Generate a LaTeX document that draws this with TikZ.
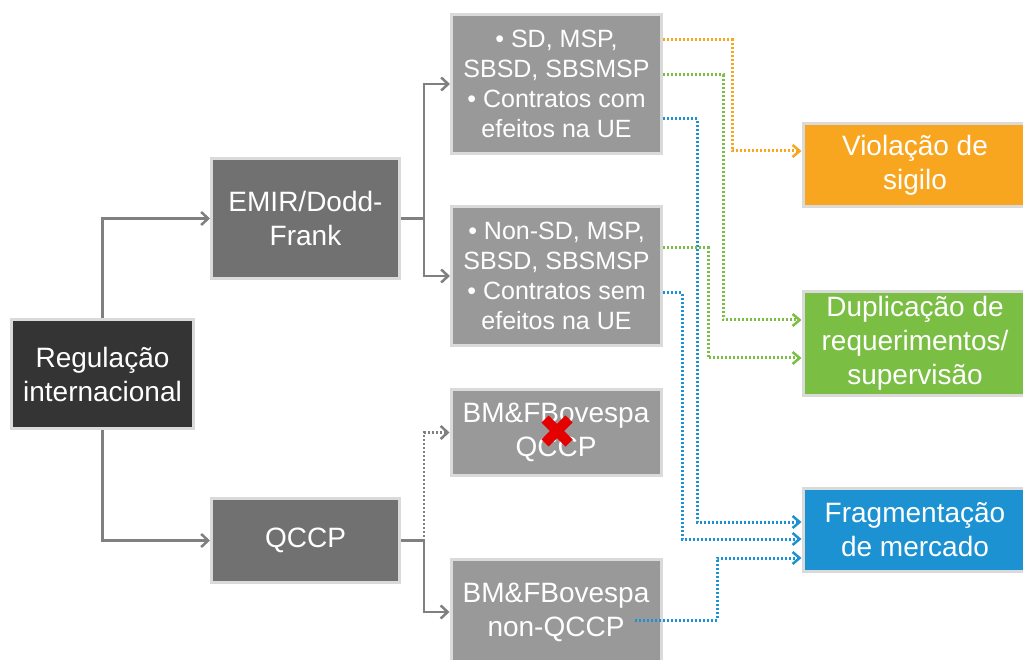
\documentclass[tikz,border=0pt]{standalone}
\usepackage{fontspec}
\setmainfont{Liberation Sans}
\usetikzlibrary{arrows.meta}

\definecolor{regdark}{RGB}{52,52,52}
\definecolor{midgray}{RGB}{113,113,113}
\definecolor{lightgray}{RGB}{153,153,153}
\definecolor{rimgray}{RGB}{218,218,218}
\definecolor{sigilo}{RGB}{248,166,32}
\definecolor{duplic}{RGB}{122,190,68}
\definecolor{fragm}{RGB}{28,146,210}
\definecolor{linegray}{RGB}{128,128,128}

\tikzstyle{box}=[draw=rimgray,line width=3pt,text=white,align=center,inner sep=0pt,font=\fontsize{28}{34}\selectfont]
\tikzstyle{rootbox}=[box,fill=regdark,minimum width=182pt,minimum height=109pt]
\tikzstyle{regbox}=[box,fill=midgray,minimum width=188pt]
\tikzstyle{casebox}=[box,fill=lightgray,minimum width=210pt]
\tikzstyle{listbox}=[casebox,minimum height=139pt,font=\fontsize{25}{30}\selectfont]
\tikzstyle{riskbox}=[box,minimum width=224pt]
\tikzstyle{mainline}=[linegray,line width=2.5pt]
\tikzstyle{mainedge}=[mainline,-{Straight Barb[length=7pt,width=13pt]}]
\tikzstyle{riskedge}=[line width=3pt,dash pattern=on 2pt off 2pt,-{Straight Barb[length=7pt,width=12pt,line width=2.5pt]}]

\begin{document}
\begin{tikzpicture}[x=1pt,y=-1pt]
\useasboundingbox (0,0) rectangle (1023,660);
\clip (0,0) rectangle (1023,660);
% root
\node[rootbox] (reg) at (102.5,374) {Regulação\\internacional};
% regulations
\node[regbox,minimum height=120pt] (emir) at (305.5,218.5) {EMIR/Dodd-\\Frank};
\node[regbox,minimum height=84pt] (qccp) at (305.5,540.5) {QCCP};
% cases
\node[listbox] (sd) at (556.5,84)
    {\textbullet{} SD, MSP,\\SBSD, SBSMSP\\\textbullet{} Contratos com\\efeitos na UE};
\node[listbox] (nsd) at (556.5,276)
    {\textbullet{} Non-SD, MSP,\\SBSD, SBSMSP\\\textbullet{} Contratos sem\\efeitos na UE};
\node[casebox,minimum height=86pt] (bmq) at (556,432.5) {BM\&FBovespa\\QCCP};
\node[casebox,minimum height=105pt] (bmn) at (556,612) {BM\&FBovespa\\non-QCCP};
% risks
\node[riskbox,fill=sigilo,minimum height=83pt] (vio) at (915,165) {Violação de\\sigilo};
\node[riskbox,fill=duplic,minimum height=104pt] (dup) at (915,343.5) {Duplicação de\\requerimentos/\\supervisão};
\node[riskbox,fill=fragm,minimum height=83pt] (frag) at (915,530) {Fragmentação\\de mercado};
% tree
\draw[mainedge] (reg.north) |- (emir.west);
\draw[mainedge] (reg.south) |- (qccp.west);
\coordinate (ej) at ([xshift=23pt]emir.east);
\draw[mainline] (emir.east) -- (ej);
\draw[mainedge] (ej) |- (sd.west);
\draw[mainedge] (ej) |- (nsd.west);
\coordinate (qj) at ([xshift=23pt]qccp.east);
\draw[mainline] (qccp.east) -- (qj);
\draw[mainedge] (qj) |- (bmn.west);
\draw[mainedge,line width=2.5pt,dash pattern=on 2pt off 2pt] (qj) |- (bmq.west);
% risk links
\draw[riskedge,sigilo] ([yshift=44pt]sd.east) -- ++(69,0) |- ([yshift=14pt]vio.west);
\draw[riskedge,duplic] ([yshift=9pt]sd.east) -- ++(60,0) |- ([yshift=23.5pt]dup.west);
\draw[riskedge,fragm] ([yshift=-35pt]sd.east) -- ++(34,0) |- ([yshift=8pt]frag.west);
\draw[riskedge,duplic] ([yshift=28pt]nsd.east) -- ++(45,0) |- ([yshift=-14.5pt]dup.west);
\draw[riskedge,fragm] ([yshift=-17pt]nsd.east) -- ++(19,0) |- ([yshift=-9pt]frag.west);
\draw[riskedge,fragm] ([xshift=79pt,yshift=-8pt]bmn.center) -- ++(82,0) |- ([yshift=-28pt]frag.west);
% cross
\coordinate (xmark) at (557,431);
\draw[red!90!black,line width=10pt] ([shift={(-12,-12)}]xmark) -- ([shift={(12,12)}]xmark)
    ([shift={(-12,12)}]xmark) -- ([shift={(12,-12)}]xmark);
\end{tikzpicture}
\end{document}
